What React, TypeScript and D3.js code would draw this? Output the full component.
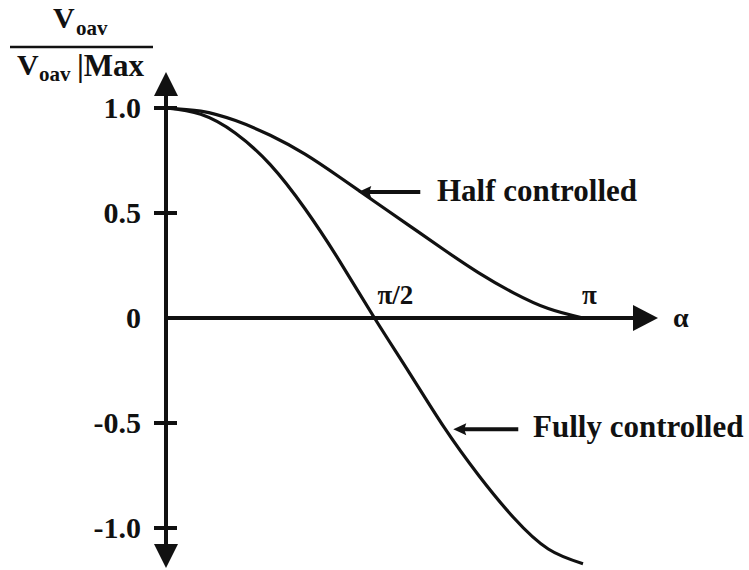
import React from "react";
import * as d3 from "d3";

// firing angle α in degrees
const alphaDeg = [0, 15, 30, 45, 60, 75, 90, 105, 120, 135, 150, 165, 180];
// normalized average output voltage
const halfControlled = [1.0, 0.985, 0.94, 0.87, 0.78, 0.67, 0.555, 0.44, 0.325, 0.215, 0.12, 0.045, 0.0];
const fullyControlled = [1.0, 0.97, 0.88, 0.73, 0.52, 0.27, 0.0, -0.26, -0.52, -0.75, -0.95, -1.1, -1.17];
const yTicks = [1.0, 0.5, 0, -0.5, -1.0];
const yTickLabels = ["1.0", "0.5", "0", "-0.5", "-1.0"];
const xTicks = [90, 180];
const xTickLabels = ["π/2", "π"];

const W = 749;
const H = 570;
const INK = "#111";
const FONT = '"Liberation Serif", "DejaVu Serif", "Times New Roman", serif';

export default function App() {
  const x = d3.scaleLinear().domain([0, 180]).range([166, 583]);
  const y = d3.scaleLinear().domain([-1, 1]).range([528, 108]);

  const line = d3
    .line<number>()
    .x((_, i) => x(alphaDeg[i]))
    .y((d) => y(d))
    .curve(d3.curveNatural);

  const x0 = x(0);
  const y0 = y(0);
  const yTop = 72;
  const yBot = 568;
  const xRight = 658;

  // label arrow targets (on the curves)
  const halfTip = { x: x(83), y: y(0.6) };
  const fullTip = { x: x(124), y: y(-0.53) };

  const leftArrow = (tx: number, ty: number, len: number) => (
    <g>
      <line x1={tx + 8} y1={ty} x2={tx + len} y2={ty} stroke={INK} strokeWidth={4} />
      <path d={`M${tx},${ty} L${tx + 13},${ty - 6} L${tx + 11},${ty} L${tx + 13},${ty + 6} Z`} fill={INK} />
    </g>
  );

  return (
    <svg
      width={W}
      height={H}
      style={{ position: "absolute", left: 0, top: 0, background: "#fff", fontFamily: FONT, fontWeight: "bold" }}
      fill={INK}
    >
      {/* Y axis title: Voav / Voav|Max */}
      <text x={53} y={28} fontSize={30}>V</text>
      <text x={76} y={35} fontSize={21}>oav</text>
      <line x1={10} y1={47} x2={153} y2={47} stroke={INK} strokeWidth={2.5} />
      <text x={17} y={75} fontSize={30}>V</text>
      <text x={39} y={81} fontSize={21}>oav</text>
      <text x={77} y={76} fontSize={31}>|Max</text>

      {/* Y axis */}
      <line x1={x0} y1={yTop + 15} x2={x0} y2={yBot - 15} stroke={INK} strokeWidth={4} />
      <path d={`M${x0},${yTop} L${x0 - 12},${yTop + 24} L${x0 + 12},${yTop + 24} Z`} fill={INK} />
      <path d={`M${x0},${yBot} L${x0 - 12},${yBot - 24} L${x0 + 12},${yBot - 24} Z`} fill={INK} />

      {yTicks.map((t, i) => (
        <g key={t}>
          {t !== 0 && (
            <line x1={x0 - 12} x2={x0 + 11} y1={y(t)} y2={y(t)} stroke={INK} strokeWidth={4} />
          )}
          <text x={141} y={y(t) + 10} fontSize={30} textAnchor="end">
            {yTickLabels[i]}
          </text>
        </g>
      ))}

      {/* X axis */}
      <line x1={x0} y1={y0} x2={xRight - 15} y2={y0} stroke={INK} strokeWidth={4} />
      <path d={`M${xRight},${y0} L${xRight - 25},${y0 - 13} L${xRight - 25},${y0 + 13} Z`} fill={INK} />
      <text x={673} y={y0 + 9} fontSize={28}>α</text>

      {xTicks.map((t, i) => (
        <text key={t} x={x(t) + (i === 0 ? 3 : -1)} y={y0 - 14} fontSize={27}>
          {xTickLabels[i]}
        </text>
      ))}

      {/* Curves */}
      <path d={line(halfControlled) || ""} fill="none" stroke={INK} strokeWidth={3.2} />
      <path d={line(fullyControlled) || ""} fill="none" stroke={INK} strokeWidth={3.2} />

      {/* Annotations */}
      {leftArrow(halfTip.x, halfTip.y, 62)}
      <text x={437} y={201} fontSize={31}>Half controlled</text>
      {leftArrow(fullTip.x, fullTip.y, 65)}
      <text x={533} y={437} fontSize={31}>Fully controlled</text>
    </svg>
  );
}
